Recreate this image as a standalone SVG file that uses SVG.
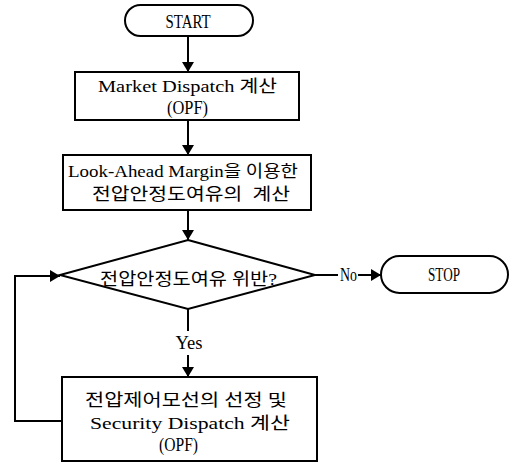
<svg xmlns="http://www.w3.org/2000/svg" width="511" height="464" viewBox="0 0 511 464">
<style>
.bx{fill:#fff;stroke:#000;stroke-width:2}
.ln{fill:none;stroke:#000;stroke-width:2}
.t{font-family:"Liberation Serif","Noto Sans CJK KR",serif;font-size:17px;fill:#000}
.b{font-size:19px}
.m{font-size:18px}
.c{text-anchor:middle}
.pre{white-space:pre}
</style>
<defs>
<marker id="ah" viewBox="0 0 10 12" refX="10" refY="6" markerWidth="10" markerHeight="12" markerUnits="userSpaceOnUse" orient="auto">
<path d="M0,0 L10,6 L0,12 z" fill="#000"/>
</marker>
</defs>
<rect width="511" height="464" fill="#fff"/>
<g id="connectors">
<path class="ln" d="M188,36 V72" marker-end="url(#ah)"/>
<path class="ln" d="M188,120 V155" marker-end="url(#ah)"/>
<path class="ln" d="M188,210 V240" marker-end="url(#ah)"/>
<path class="ln" d="M315,275 H338"/>
<text class="t m" x="340" y="281" textLength="17" lengthAdjust="spacingAndGlyphs">No</text>
<path class="ln" d="M358,275 H381" marker-end="url(#ah)"/>
<path class="ln" d="M188,309 V331"/>
<text class="t m c" x="189" y="349" textLength="27" lengthAdjust="spacingAndGlyphs">Yes</text>
<path class="ln" d="M188,355 V377" marker-end="url(#ah)"/>
<path class="ln" d="M62,421 H15 V276 H60" marker-end="url(#ah)"/>
</g>
<g id="start">
<rect class="bx" x="125" y="5" width="128" height="31" rx="15.5"/>
<text class="t b c" x="188" y="28" textLength="45" lengthAdjust="spacingAndGlyphs">START</text>
</g>
<g id="market">
<rect class="bx" x="75" y="72" width="224" height="48"/>
<text class="t" x="98" y="92" textLength="179" lengthAdjust="spacingAndGlyphs">Market Dispatch 계산</text>
<text class="t m" x="167" y="114" textLength="41" lengthAdjust="spacingAndGlyphs">(OPF)</text>
</g>
<g id="margin">
<rect class="bx" x="63" y="155" width="248" height="55"/>
<text class="t" x="68" y="177" textLength="230" lengthAdjust="spacingAndGlyphs">Look-Ahead Margin을 이용한</text>
<text class="t pre" x="92" y="200" textLength="198" lengthAdjust="spacingAndGlyphs" xml:space="preserve">전압안정도여유의  계산</text>
</g>
<g id="decision">
<path class="bx" d="M188,240 L315,275 L188,309 L60,275 Z"/>
<text class="t" x="100" y="285" textLength="177" lengthAdjust="spacingAndGlyphs">전압안정도여유 위반?</text>
</g>
<g id="stop">
<rect class="bx" x="381" y="256" width="127" height="37" rx="18.5"/>
<text class="t b" x="428" y="281" textLength="32" lengthAdjust="spacingAndGlyphs">STOP</text>
</g>
<g id="security">
<rect class="bx" x="62" y="377" width="255" height="84"/>
<text class="t" x="85" y="406" textLength="202" lengthAdjust="spacingAndGlyphs">전압제어모선의 선정 및</text>
<text class="t" x="90" y="429" textLength="200" lengthAdjust="spacingAndGlyphs">Security Dispatch 계산</text>
<text class="t m" x="159" y="451" textLength="39" lengthAdjust="spacingAndGlyphs">(OPF)</text>
</g>
</svg>
